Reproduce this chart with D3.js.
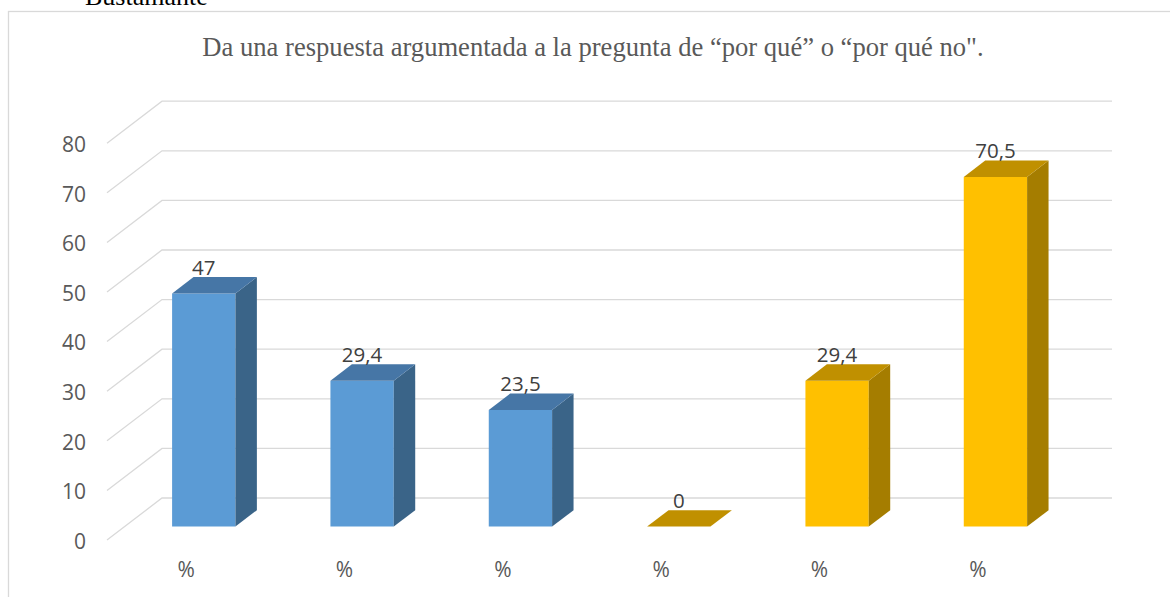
<!DOCTYPE html>
<html>
<head>
<meta charset="utf-8">
<script src="https://cdn.jsdelivr.net/npm/d3@7"></script>
<style>
  html, body { margin: 0; padding: 0; background: #ffffff; }
  svg { display: block; }
</style>
</head>
<body>
<svg id="chart" width="1170" height="597"></svg>
<script>
// ---- data ----
const categories = ["%", "%", "%", "%", "%", "%"];
const values = [47, 29.4, 23.5, 0, 29.4, 70.5];
const valueLabels = ["47", "29,4", "23,5", "0", "29,4", "70,5"];
const seriesOf = ["blue", "blue", "blue", "gold", "gold", "gold"];
const yTicks = [0, 10, 20, 30, 40, 50, 60, 70, 80];
const titleText = "Da una respuesta argumentada a la pregunta de \u201cpor qu\u00e9\u201d o \u201cpor qu\u00e9 no\".";
const headerText = "Bustamante";

// ---- styles ----
const palette = {
  blue: { front: "#5B9BD5", top: "#4676A6", side: "#3A6488" },
  gold: { front: "#FFC000", top: "#C09000", side: "#A57D00" }
};
const gridColor = "#D9D9D9";
const textColor = "#595959";

// ---- geometry ----
const svg = d3.select("#chart");
const floorFrontY = 540;
const wallDX = 55, wallDY = -42;      // depth offset of back wall
const barF0 = 0.32, barF1 = 0.71;     // bar depth fractions
const frontLeft = 107, frontRight = 1057;

const y = d3.scaleLinear().domain([0, 80]).range([floorFrontY, floorFrontY - 80 * 4.96]);
const x = d3.scaleBand().domain(d3.range(categories.length)).range([frontLeft, frontRight]).padding(0);
const barW = x.bandwidth() * 0.4;

// frame
svg.append("rect")
  .attr("x", 8.5).attr("y", 11.5).attr("width", 1200).attr("height", 700)
  .attr("fill", "none").attr("stroke", gridColor).attr("stroke-width", 1.3);

// header text (cut off at top, as in the source)
svg.append("text")
  .attr("x", 85).attr("y", 5)
  .attr("font-family", "'Liberation Serif', 'Times New Roman', serif")
  .attr("font-size", 26).attr("fill", "#000")
  .text(headerText);

// title
svg.append("text")
  .attr("x", 593).attr("y", 56)
  .attr("text-anchor", "middle")
  .attr("font-family", "'Liberation Serif', 'Times New Roman', serif")
  .attr("font-size", 26.6).attr("fill", textColor)
  .text(titleText);

// gridlines: back wall horizontal + left diagonal
const grid = svg.append("g").attr("stroke", gridColor).attr("stroke-width", 1.3).attr("fill", "none");
yTicks.forEach(t => {
  const yf = y(t);
  grid.append("path")
    .attr("d", `M${frontLeft},${yf}L${frontLeft + wallDX},${yf + wallDY}L${frontRight + wallDX},${yf + wallDY}`);
});

// y axis labels
const yAxis = d3.axisLeft(y).tickValues(yTicks).tickSize(0).tickPadding(0);
const yG = svg.append("g").attr("transform", "translate(86,1.5)").call(yAxis);
yG.select(".domain").remove();
yG.selectAll("text")
  .attr("font-family", "'Open Sans', 'Noto Sans', sans-serif")
  .attr("font-size", 21).attr("fill", textColor);

// x axis labels
const xAxis = d3.axisBottom(x).tickFormat(i => categories[i]).tickSize(0).tickPadding(0);
const xG = svg.append("g").attr("transform", "translate(0,562)").call(xAxis);
xG.select(".domain").remove();
xG.selectAll("text")
  .attr("font-family", "'Open Sans', 'Noto Sans', sans-serif")
  .attr("font-size", 21).attr("fill", textColor);

// bars
const f0dx = wallDX * barF0, f0dy = wallDY * barF0;
const ddx = wallDX * (barF1 - barF0), ddy = wallDY * (barF1 - barF0);
const bars = svg.append("g");
values.forEach((v, i) => {
  const c = palette[seriesOf[i]];
  const x0 = x(i) + (x.bandwidth() - barW) / 2 + f0dx;
  const x1 = x0 + barW;
  const yb = y(0) + f0dy;
  const yt = y(v) + f0dy;
  const g = bars.append("g");
  if (v > 0) {
    g.append("path").attr("fill", c.front)
      .attr("d", `M${x0},${yb}L${x1},${yb}L${x1},${yt}L${x0},${yt}Z`);
    g.append("path").attr("fill", c.side)
      .attr("d", `M${x1},${yb}L${x1 + ddx},${yb + ddy}L${x1 + ddx},${yt + ddy}L${x1},${yt}Z`);
  }
  g.append("path").attr("fill", c.top)
    .attr("d", `M${x0},${yt}L${x1},${yt}L${x1 + ddx},${yt + ddy}L${x0 + ddx},${yt + ddy}Z`);
  // value label
  svg.append("text")
    .attr("x", (x0 + x1) / 2).attr("y", yt + ddy - 2.5)
    .attr("text-anchor", "middle")
    .attr("font-family", "'Open Sans', 'Noto Sans', sans-serif")
    .attr("font-size", 20.5).attr("fill", "#404040")
    .text(valueLabels[i]);
});
</script>
</body>
</html>
